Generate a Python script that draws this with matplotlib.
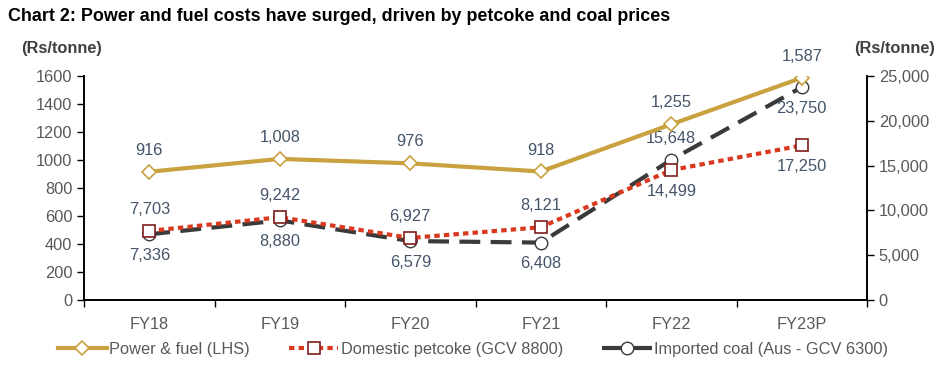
import matplotlib
matplotlib.use("Agg")
import matplotlib.pyplot as plt

plt.rcParams['font.family'] = ['Liberation Sans', 'DejaVu Sans']

years = ["FY18", "FY19", "FY20", "FY21", "FY22", "FY23P"]
power_fuel = [916, 1008, 976, 918, 1255, 1587]
petcoke = [7703, 9242, 6927, 8121, 14499, 17250]
coal = [7336, 8880, 6579, 6408, 15648, 23750]

# label placement: +1 above the point, -1 below
petcoke_pos = [1, 1, 1, 1, -1, -1]
coal_pos = [-1, -1, -1, -1, 1, -1]

gold = "#C9A13F"
red = "#D9391E"
dark_red = "#7F1D1D"
coal_c = "#3A3A3A"
lbl_c = "#44546A"
tick_c = "#595959"
fs = 11.8

fig = plt.figure(figsize=(9.4, 3.72), dpi=100)
ax = fig.add_axes([0.0894, 0.1935, 0.8330, 0.6022])
ax2 = ax.twinx()

x = list(range(len(years)))

ax.plot(x, power_fuel, color=gold, lw=3, marker="D", ms=7, mfc="white",
        mec=gold, mew=1.2, zorder=5, label="Power & fuel (LHS)")
ax2.plot(x, petcoke, color=red, lw=3, ls=(0, (1.3, 1.0)), marker="s", ms=8,
         mfc="white", mec=dark_red, mew=1.2, zorder=4,
         label="Domestic petcoke (GCV 8800)")
ax2.plot(x, coal, color=coal_c, lw=3, ls=(0, (5, 2.5)), marker="o", ms=9,
         mfc="white", mec=coal_c, mew=1.0, zorder=3,
         label="Imported coal (Aus - GCV 6300)")

ax.set_xlim(-0.5, len(years) - 0.5)
ax.set_ylim(0, 1600)
ax2.set_ylim(0, 25000)
ax.set_yticks(range(0, 1601, 200))
ax2.set_yticks(range(0, 25001, 5000))
ax2.set_yticklabels([f"{v:,}" for v in range(0, 25001, 5000)])

ax.set_xticks(x)
ax.set_xticklabels(years)
ax.set_xticks([i - 0.5 for i in range(len(years) + 1)], minor=True)
ax.tick_params(axis="x", which="major", length=0, pad=12, labelsize=fs, labelcolor=tick_c)
ax.tick_params(axis="x", which="minor", length=5, width=1, direction="out")
ax.tick_params(axis="y", length=5, width=1, labelsize=fs, labelcolor=tick_c)
ax2.tick_params(axis="y", length=5, width=1, labelsize=fs, labelcolor=tick_c)

for a in (ax, ax2):
    a.spines["top"].set_visible(False)
    for s in ("left", "right", "bottom"):
        a.spines[s].set_linewidth(1.2)
        a.spines[s].set_color("black")
ax2.set_zorder(ax.get_zorder() + 1)
ax.set_zorder(ax2.get_zorder() + 1)
ax.patch.set_visible(False)

for i, v in enumerate(power_fuel):
    ax.annotate(f"{v:,}", (i, v), xytext=(0, 10), textcoords="offset points",
                ha="center", va="bottom", fontsize=fs, color=lbl_c)
for i, v in enumerate(petcoke):
    d = petcoke_pos[i]
    ax2.annotate(f"{v:,}", (i, v), xytext=(0, 10 * d), textcoords="offset points",
                 ha="center", va="bottom" if d > 0 else "top", fontsize=fs, color=lbl_c)
for i, v in enumerate(coal):
    d = coal_pos[i]
    ax2.annotate(f"{v:,}", (i, v), xytext=(0, 10 * d), textcoords="offset points",
                 ha="center", va="bottom" if d > 0 else "top", fontsize=fs, color=lbl_c)

fig.text(0.009, 0.955, "Chart 2: Power and fuel costs have surged, driven by petcoke and coal prices",
         fontsize=12.9, fontweight="bold", color="black", va="center")
fig.text(0.022, 0.87, "(Rs/tonne)", fontsize=fs, fontweight="bold", color="#404040", va="center")
fig.text(0.995, 0.87, "(Rs/tonne)", fontsize=fs, fontweight="bold", color="#404040",
         va="center", ha="right")

h1, l1 = ax.get_legend_handles_labels()
h2, l2 = ax2.get_legend_handles_labels()
fig.legend(h1 + h2, l1 + l2, loc="center", bbox_to_anchor=(0.503, 0.06), ncol=3,
           frameon=False, fontsize=fs, labelcolor=tick_c, handlelength=3.0,
           handletextpad=0.15, columnspacing=2.4)

fig.savefig("out.png", dpi=100)
